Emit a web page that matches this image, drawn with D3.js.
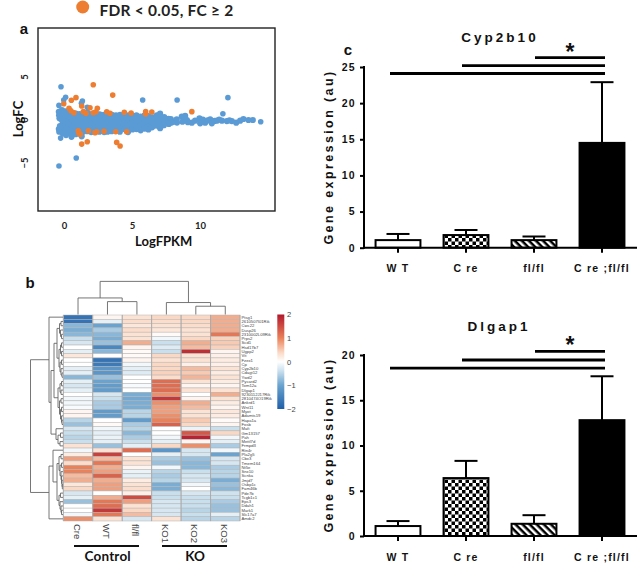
<!DOCTYPE html>
<html><head><meta charset="utf-8">
<script src="https://cdn.jsdelivr.net/npm/d3@7"></script>
<style>
html,body{margin:0;padding:0;background:#fff}
svg{display:block}
text{font-family:"Liberation Sans",Arial,sans-serif}
.cal{font-family:Lato,"Open Sans",sans-serif}
</style></head><body>
<svg id="c" width="638" height="565"></svg>
<script>
// ---------- panel a data ----------
const blueCloud = [
[-.38,.95],[-.36,.55],[-.33,.2],[-.38,-1.05],[-.35,-1.35],[-.3,-.7],
[-.15,1.15],[-.12,.75],[-.1,.35],[-.14,-.05],[-.08,-.4],[-.12,-.8],[-.15,-1.15],[-.1,-1.55],
[.12,1.0],[.14,.6],[.08,.2],[.14,-.2],[.1,-.6],[.07,-1.0],[.12,-1.4],[.15,-1.75],
[.38,.9],[.33,.5],[.38,.1],[.32,-.3],[.36,-.7],[.34,-1.1],[.38,-1.5],
[.62,.8],[.58,.4],[.63,0],[.57,-.4],[.62,-.8],[.6,-1.2],[.56,-1.6],[.55,-1.95],
[.88,.75],[.82,.35],[.88,-.1],[.84,-.5],[.87,-.9],[.83,-1.3],[.86,-1.65],
[1.14,.7],[1.1,.3],[1.16,-.15],[1.09,-.55],[1.13,-.95],[1.15,-1.4],[1.3,-1.9],
[1.42,.75],[1.38,.3],[1.44,-.1],[1.37,-.5],[1.43,-.9],[1.4,-1.35],
[1.72,.85],[1.68,.4],[1.74,0],[1.67,-.45],[1.73,-.85],[1.7,-1.3],
[2.02,.7],[1.98,.3],[2.04,-.15],[1.97,-.55],[2.03,-.95],[2,-1.4],
[2.32,.75],[2.28,.35],[2.34,-.1],[2.27,-.5],[2.33,-.9],[2.3,-1.3],
[2.62,.65],[2.58,.25],[2.64,-.15],[2.57,-.55],[2.63,-.95],[2.6,-1.35],
[2.92,.6],[2.88,.2],[2.94,-.2],[2.87,-.6],[2.93,-1.0],[2.95,-1.4],
[3.22,.65],[3.18,.25],[3.24,-.15],[3.17,-.55],[3.23,-.95],[3.2,-1.35],
[3.52,.6],[3.48,.2],[3.54,-.2],[3.47,-.6],[3.53,-1.0],[3.5,-1.3],
[3.82,.55],[3.78,.15],[3.84,-.25],[3.77,-.65],[3.83,-1.05],
[4.12,.6],[4.08,.2],[4.14,-.2],[4.07,-.6],[4.13,-1.0],[4.1,-1.35],
[4.42,.55],[4.38,.15],[4.44,-.25],[4.37,-.65],[4.43,-1.05],
[4.72,.55],[4.68,.15],[4.74,-.25],[4.67,-.65],[4.73,-1.1],[4.7,-1.4],
[5.02,.5],[4.98,.1],[5.04,-.3],[4.97,-.7],[5.03,-1.1],
[5.32,.55],[5.28,.15],[5.34,-.25],[5.27,-.65],[5.33,-1.05],
[5.62,.4],[5.58,0],[5.64,-.4],[5.57,-.8],[5.63,-1.2],
[5.92,.55],[5.88,.15],[5.94,-.25],[5.87,-.65],[5.93,-1.0],
[6.22,.45],[6.18,.05],[6.24,-.35],[6.17,-.75],[6.2,-1.1],
[6.52,.3],[6.48,-.1],[6.54,-.5],[6.47,-.85],
[6.82,.55],[6.78,.15],[6.84,-.25],[6.77,-.65],
[7.06,.75],[7.1,.3],[7.04,-.2],[7.1,-.6],[7.06,-.95],
[7.36,.35],[7.32,0],[7.38,-.35],[7.34,-.6],
[7.68,.15],[7.64,-.2],[7.7,-.45],[7.85,.1],[7.9,-.3],
[8.04,-.2],[8.28,.08],[8.3,-.3],[8.65,.39],[8.7,-.2],[8.9,.47],[9.03,0],[9.1,-.25],[9.39,-.31],[9.63,-.08],[9.95,.2],[10,-.39],
[10.2,.05],[10.37,-.31],[10.55,-.05],[10.74,.08],[10.86,-.39],[11.05,-.1],[11.23,-.08],[11.4,.05],[11.6,-.08],[11.96,-.12],[12.15,-.05],[12.33,-.12],[12.65,-.31],[12.94,-.08],[13.18,.12],[13.55,0],[13.87,0]
];
const blueOutliers = [[-.22,3.87],[.12,2.64],[-.02,2.33],[1.35,2.2],[1.28,1.95],[-.37,1.7],[5.78,2.33],[8.31,2.33],[12.04,2.6],[11.67,.73],[-.25,-2.1],[.9,-4.42],[-.37,-5.35],[1.71,1.48],[14.45,-.2]];
const orangePts = [[2.15,4.1],[3.58,2.9],[.88,2.6],[.54,2.3],[-.02,1.9],[1.3,1.63],[.37,1.36],[.51,1.08],[.74,.85],[1.91,1.43],[1.42,.97],[1.62,.78],[2.45,1.36],[2.15,.85],[2.35,.96],[3.14,.96],[3.38,.78],[4.43,.9],[4.93,.81],[6,.97],[6,.7],[6.45,.93],[9.39,.97],
[1.05,-1.24],[1.1,-1.55],[1.2,-1.67],[1.79,-1.24],[2.28,-1.47],[2.4,-1.36],[2.94,-1.32],[3.8,-1.36],[4.6,-1.36],[1.3,-2.8],[1.71,-2.52],[3.87,-2.6],[4.12,-3.02]];
const scatterXTicks = [0,5,10];
const scatterYTicks = [5,0,-5];

// ---------- panel b data ----------
const heatCols = ["Cre","WT","fl/fl","KO1","KO2","KO3"];
const heatRows = ["Ptsg1","2610507I01Rik","Cwc22","Dusp26","2310002L09Rik","Prps2","Scd1","Hsd17b7","Ugpp2","Vit","Fzex1","Cp","Cyp2b10","Cdagt12","Ywd2","Pycard2","Tom12a","Dlgap1","9230112J17Rik","2810474O19Rik","Ankrd1","Wnt11","Myot","Adamts19","Hapa1a","Fosb","Mafi","Gm13157","Pah","Mettl7d","Frmpd3","Rtn4r","Pla2g5","Cbx3","Tmem164","Nt5e","Snx10","Scnka","Jmjd7","Osbp1c","Fam46b","Pde7b","Tcgb1c1","Eps3","Ddah1","Mark1","Slc17a7","Amdc2"];
const heatValues = [
[-1.7,.1,.3,.4,.4,.7],[-1.7,-.2,.35,.35,.4,.7],[-.8,-1,.25,.3,.35,.7],[-.9,-.6,.35,.25,.3,.7],[-.8,-.8,.3,.05,.3,1.1],
[-.4,-.9,.3,-.1,.4,.45],[-.3,-.7,.7,-.4,.7,.5],[0,-1.4,.1,-.25,.6,.45],[-.2,-.8,.05,-.4,1.8,.1],[.25,0,.05,.4,.3,.15],
[0,-1.7,.1,.3,.3,.2],[0,-1.6,-.1,.4,.15,.15],[-.2,-1.2,-.2,.4,.6,.3],[-.2,-1.2,-.25,.45,.5,.2],[-.8,-.7,0,.35,.65,.3],
[-.2,-1,0,1.2,.3,.2],[-.3,-1.1,-.05,1.2,.1,.1],[-.2,-1.1,0,1.2,.3,.3],[0,-.3,-.9,.9,0,.7],[-.1,-.4,-.95,1.7,.1,.3],
[-.1,-.6,-.9,.9,.7,.2],[-.05,-.6,-.9,.8,.6,.1],[.1,-1.1,-.5,.8,.3,.25],[.1,-1.1,-.5,.9,.3,.2],[-.5,0,-1.1,1,.5,.05],
[-.7,.05,-.6,1.3,.4,.1],[-.3,-.1,-.5,0,-.15,-.4],[-.4,-.2,-.8,0,1.4,.4],[-.5,-.15,-.6,-.1,1.9,-.1],[-.4,-.2,-.4,-.2,.1,-.2],
[.3,-.7,-.2,.4,.9,-.6],[-.1,.3,1.2,-1.2,-.3,-.1],[.2,1.6,0,-.2,-.3,-1],[.8,.6,.3,-.6,-.7,-.3],[.35,1.1,.3,-.7,-.8,-.3],
[1,.7,.1,-.1,-.8,-.6],[1,.8,-.15,-.5,-.4,-.5],[.6,1.3,-.2,-.6,-.3,-.5],[.7,.7,.2,-.5,-.3,-.9],[.25,.8,.3,-.9,-.1,-.7],
[.4,.8,.35,-.9,0,-.8],[-.3,0,.15,-.4,-.3,-.35],[-.2,.7,1.5,-.4,-.4,-.4],[-.7,1.1,.8,-.3,-.4,-.6],[0,1.2,.3,-.3,-.4,-.7],
[0,1.7,.4,-.3,-.5,-.7],[-.1,1.1,.6,-.3,-.4,-.2],[.9,.3,-.3,.3,-.5,-.5]];
const colorStops = [-2,-1,-.4,0,.4,1,2];
const colorRange = ["#1f5fa8","#6aa3cf","#c8dfed","#ffffff","#fbd8c4","#e9825a","#b2182b"];
const colorTicks = [2,1,0,-1,-2];
// dendrograms: [height, left, right]; a number is a leaf index
const colTree = [36,[18,0,[14,1,2]],[13,3,[9,4,5]]];
const rowTree = [32.5,
 [14,0,[12,
   [9,
     [6,[3.5,[2,1,2],[2.5,3,[1.5,4,5]]],[4,[2.5,[1.5,6,7],[1.5,8,9]],[3,[1.5,10,11],[2,12,[1,13,14]]]]],
     [5,[3,[1.5,15,16],[2,17,18]],[3.5,[2,19,20],[2.5,[1.5,21,22],[1.5,23,[1,24,25]]]]]],
   [7,26,[5,[2.5,27,28],[3,29,30]]]]],
 [14,[10,31,[6,[4,[2,32,33],[3,[1.5,34,35],[2,36,[1.5,37,[1,38,[.7,39,40]]]]]],[4,[2.5,41,42],[3,43,[2,44,[1.5,45,46]]]]]],47]];

// ---------- panel c/d data ----------
const barCats = ["W T","C re","fl/fl","C re ;fl/fl"];
const cypMeans = [1.05,1.75,1.05,14.5];
const cypErrs = [1.9,2.45,1.55,22.9];
const cypTicks = [0,5,10,15,20,25];
const cypSig = [[24.1,0],[25.2,1],[26.3,2]];
const dlgMeans = [1.1,6.4,1.35,12.8];
const dlgErrs = [1.65,8.3,2.3,17.65];
const dlgTicks = [0,5,10,15,20];
const dlgSig = [[18.56,0],[19.45,1],[20.4,2]];

const svg = d3.select("#c");
const defs = svg.append("defs");
defs.append("filter").attr("id","soft").attr("x","-2%").attr("y","-2%").attr("width","104%").attr("height","104%")
  .append("feGaussianBlur").attr("stdDeviation",.35);

// ---- panel a ----
const fx = d3.scaleLinear().domain([-1.91,15.5]).range([38,275]);
const fy = d3.scaleLinear().domain([10.7,-10.58]).range([28,211]);
svg.append("rect").attr("x",38).attr("y",28).attr("width",237).attr("height",183)
  .attr("fill","#fff").attr("stroke","#222").attr("stroke-width",1.4);
const dots = (pts,col,r)=>svg.append("g").selectAll("circle").data(pts).join("circle")
  .attr("cx",d=>fx(d[0])).attr("cy",d=>fy(d[1])).attr("r",r).attr("fill",col);
dots(blueCloud,"#5b9bd5",3.1);
dots(blueOutliers,"#5b9bd5",2.8);
dots(orangePts,"#ed7d31",2.8);
const xa = svg.append("g").attr("transform","translate(0,226)").call(d3.axisBottom(fx).tickValues(scatterXTicks).tickSize(0).tickPadding(0));
xa.select(".domain").remove();
xa.selectAll("text").attr("class","cal").attr("y",0).attr("dy","0.35em").style("font-size","9.5px").style("font-weight",700).attr("fill","#222");
const ya = svg.append("g").attr("transform","translate(25,0)").call(d3.axisLeft(fy).tickValues(scatterYTicks).tickSize(0).tickPadding(0));
ya.select(".domain").remove();
ya.selectAll("text").attr("class","cal").attr("x",0).attr("dy",0).attr("text-anchor","middle").attr("dominant-baseline","central")
  .attr("transform",d=>`rotate(-90,0,${fy(d)})`).attr("y",d=>fy(d)).style("font-size","9.5px").style("font-weight",700).attr("fill","#222");
ya.selectAll(".tick").attr("transform",null);
const label=(x,y,t,size,weight,cls,extra)=>{const e=svg.append("text").attr("x",x).attr("y",y).text(t)
  .attr("text-anchor","middle").attr("dominant-baseline","central").attr("fill","#111")
  .style("font-size",size+"px").style("font-weight",weight); if(cls)e.attr("class",cls); if(extra)extra(e); return e;};
label(163.7,240.5,"LogFPKM",13,700,"cal");
label(18,119,"LogFC",13,700,"cal",e=>e.attr("transform","rotate(-90,18,119)"));
svg.append("circle").attr("cx",82.7).attr("cy",7).attr("r",6.5).attr("fill","#ed7d31");
label(166.5,9.5,"FDR < 0.05, FC ≥ 2",15.5,700,"cal",e=>e.style("letter-spacing",".25px")).attr("fill","#222");
label(24,28,"a",15,700);
label(30,282,"b",15,700);
label(348,49,"c",15,700);

// ---- panel b ----
const hx = d3.scaleBand().domain(d3.range(heatCols.length)).range([63.3,240]);
const hy = d3.scaleBand().domain(d3.range(heatRows.length)).range([315,521]);
const hc = d3.scaleLinear().domain(colorStops).range(colorRange).clamp(true);
const hg = svg.append("g").attr("filter","url(#soft)");
heatValues.forEach((row,i)=>row.forEach((v,j)=>{
  hg.append("rect").attr("x",hx(j)).attr("y",hy(i)).attr("width",hx.bandwidth()).attr("height",hy.bandwidth())
    .attr("fill",hc(v)).attr("stroke","#b3b3b3").attr("stroke-width",.5);
}));
hg.append("g").selectAll("line").data(d3.range(heatCols.length+1)).join("line")
  .attr("x1",d=>63.3+d*hx.bandwidth()).attr("x2",d=>63.3+d*hx.bandwidth()).attr("y1",315).attr("y2",521)
  .attr("stroke","#aaa").attr("stroke-width",.9);
svg.append("g").selectAll("text").data(heatRows).join("text")
  .attr("x",241.5).attr("y",(d,i)=>hy(i)+hy.bandwidth()/2).attr("dominant-baseline","central")
  .attr("fill","#444").style("font-size","4.2px").text(d=>d);
svg.append("g").selectAll("text").data(heatCols).join("text")
  .attr("transform",(d,i)=>`translate(${hx(i)+hx.bandwidth()/2-1},524) rotate(90)`)
  .attr("dominant-baseline","central").attr("fill","#444").style("font-size","9.5px").text(d=>d);
// dendrograms
function drawTree(node,pos,base,seg){
  if(typeof node==="number") return {p:pos(node),h:0};
  const a=drawTree(node[1],pos,base,seg), b=drawTree(node[2],pos,base,seg), h=node[0];
  seg(a.p,a.h,h); seg(b.p,b.h,h); seg(a.p,h,h,b.p);
  return {p:(a.p+b.p)/2,h};
}
const dg = svg.append("g").attr("stroke","#666").attr("stroke-width",.9).attr("fill","none");
const line=(x1,y1,x2,y2)=>dg.append("line").attr("x1",x1).attr("y1",y1).attr("x2",x2).attr("y2",y2);
const top0=314.5, left0=63;
drawTree(colTree,i=>hx(i)+hx.bandwidth()/2,top0,(p,h1,h2,p2)=>{
  if(p2===undefined) line(p,top0-h1*.92,p,top0-h2*.92); else line(p,top0-h1*.92,p2,top0-h1*.92);
});
drawTree(rowTree,i=>hy(i)+hy.bandwidth()/2,left0,(p,h1,h2,p2)=>{
  if(p2===undefined) line(left0-h1,p,left0-h2,p); else line(left0-h1,p,left0-h1,p2);
});
// colour bar
const cbY = d3.scaleLinear().domain([2,-2]).range([314.5,409]);
const grad = defs.append("linearGradient").attr("id","cb").attr("x1",0).attr("x2",0).attr("y1",0).attr("y2",1);
d3.range(0,1.001,.05).forEach(t=>grad.append("stop").attr("offset",t).attr("stop-color",hc(2-4*t)));
svg.append("rect").attr("x",277.3).attr("y",314.5).attr("width",7).attr("height",94.5).attr("fill","url(#cb)");
const cba = svg.append("g").attr("transform","translate(287,0)").call(d3.axisRight(cbY).tickValues(colorTicks).tickSize(0).tickPadding(0).tickFormat(d=>d<0?"−"+(-d):d));
cba.select(".domain").remove();
cba.selectAll("text").attr("fill","#444").style("font-size","7.5px");
// group labels
const gl=(x1,x2,y)=>svg.append("line").attr("x1",x1).attr("x2",x2).attr("y1",y).attr("y2",y).attr("stroke","#111").attr("stroke-width",2);
gl(74,139,546); gl(162,227,546);
label(107.7,556.3,"Control",13.5,700,"cal",e=>e.style("letter-spacing",".2px"));
label(195,556.3,"KO",13.5,700,"cal");

// ---- bar panels ----
const chk = defs.append("pattern").attr("id","chk").attr("patternUnits","userSpaceOnUse").attr("width",7).attr("height",7);
chk.append("rect").attr("width",7).attr("height",7).attr("fill","#fff");
chk.append("rect").attr("width",3.5).attr("height",3.5).attr("fill","#000");
chk.append("rect").attr("x",3.5).attr("y",3.5).attr("width",3.5).attr("height",3.5).attr("fill","#000");
const hat = defs.append("pattern").attr("id","hat").attr("patternUnits","userSpaceOnUse").attr("width",5).attr("height",5).attr("patternTransform","rotate(45)");
hat.append("rect").attr("width",5).attr("height",5).attr("fill","#fff");
hat.append("rect").attr("width",5).attr("height",2.5).attr("fill","#000");
const barFill=["#fff","url(#chk)","url(#hat)","#000"];
const sigStart=[-8,-4,1];

function barPanel(o){
  const bx=d3.scaleBand().domain(barCats).range([364,636]).paddingInner(.34).paddingOuter(.17);
  const by=d3.scaleLinear().domain([0,o.max]).range([o.y0,o.y1]);
  const g=svg.append("g");
  barCats.forEach((c,i)=>{
    const cx=bx(c)+bx.bandwidth()/2;
    g.append("line").attr("x1",cx).attr("x2",cx).attr("y1",by(o.means[i])).attr("y2",by(o.errs[i])).attr("stroke","#000").attr("stroke-width",2);
    g.append("line").attr("x1",cx-11.5).attr("x2",cx+11.5).attr("y1",by(o.errs[i])).attr("y2",by(o.errs[i])).attr("stroke","#000").attr("stroke-width",2);
    g.append("rect").attr("x",bx(c)).attr("y",by(o.means[i])).attr("width",bx.bandwidth()).attr("height",o.y0-by(o.means[i]))
      .attr("fill",barFill[i]).attr("stroke","#000").attr("stroke-width",2);
  });
  const xa=svg.append("g").attr("transform",`translate(0,${o.y0})`).call(d3.axisBottom(bx).tickSize(5).tickPadding(12));
  xa.select(".domain").attr("d",`M364,0H637`).attr("stroke","#000").attr("stroke-width",2);
  xa.selectAll("line").attr("stroke","#000").attr("stroke-width",2);
  xa.selectAll("text").attr("fill","#111").attr("y",0).attr("dy",0).attr("dominant-baseline","central")
    .attr("transform",`translate(0,${o.xLabY-o.y0})`).style("font-size","10.5px").style("font-weight",700).style("letter-spacing","1.2px");
  const ya=svg.append("g").attr("transform","translate(364,0)").call(d3.axisLeft(by).tickValues(o.ticks).tickSize(4).tickPadding(4));
  ya.select(".domain").attr("d",`M0,${o.y0+1}V${o.y1-1}`).attr("stroke","#000").attr("stroke-width",2);
  ya.selectAll("line").attr("stroke","#000").attr("stroke-width",2);
  ya.selectAll("text").attr("fill","#111").style("font-size","10.5px").style("font-weight",700).style("letter-spacing","1.3px");
  o.sig.forEach(s=>{
    const st=bx(barCats[s[1]])+bx.bandwidth()/2+sigStart[s[1]];
    svg.append("line").attr("x1",st).attr("x2",605).attr("y1",by(s[0])).attr("y2",by(s[0])).attr("stroke","#000").attr("stroke-width",2.8);
  });
  label(o.titleX,o.titleY,o.title,13.5,700,null,e=>e.style("letter-spacing","3px"));
  label(570,o.starY,"*",23,700);
  label(329,o.ytY,"Gene expression (au)",12.5,700,null,e=>e.attr("transform",`rotate(-90,329,${o.ytY})`).style("letter-spacing","2.4px"));
}
barPanel({max:25,y0:247.7,y1:67,means:cypMeans,errs:cypErrs,ticks:cypTicks,sig:cypSig,title:"Cyp2b10",titleX:500,titleY:37,starY:51.5,ytY:157,xLabY:268});
barPanel({max:20,y0:536,y1:355,means:dlgMeans,errs:dlgErrs,ticks:dlgTicks,sig:dlgSig,title:"Dlgap1",titleX:499,titleY:326,starY:345,ytY:445,xLabY:556.5});
</script>
</body></html>
